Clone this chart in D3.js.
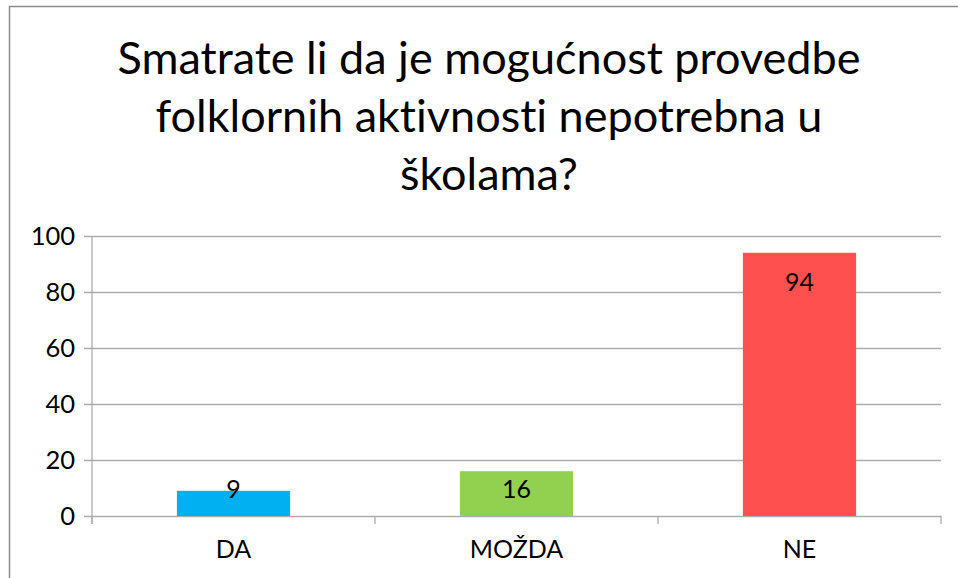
<!DOCTYPE html>
<html lang="hr">
<head>
    <meta charset="UTF-8">
    <title>Folklorne aktivnosti</title>
    <script src="https://d3js.org/d3.v7.min.js"></script>
    <style>
        body {
            margin: 0;
            background-color: #ffffff;
            font-family: Lato, "Open Sans", sans-serif;
        }
        svg text {
            fill: #000000;
            font-variant-ligatures: none;
            font-feature-settings: "liga" 0;
        }
    </style>
</head>
<body>
    <svg id="chart"></svg>

    <script>
        // podaci očitani sa slike
        const titleLines = ["Smatrate li da je mogućnost provedbe", "folklornih aktivnosti nepotrebna u", "školama?"];
        const categories = ["DA", "MOŽDA", "NE"];
        const values = [9, 16, 94];
        const barColors = ["#00b0f0", "#92d050", "#ff5050"];
        const yTicks = [0, 20, 40, 60, 80, 100];

        const W = 958, H = 578;
        const margin = { top: 236, right: 17, bottom: 62, left: 92 };
        const width = W - margin.left - margin.right;
        const height = H - margin.top - margin.bottom;

        const svg = d3.select("#chart")
            .attr("width", W)
            .attr("height", H);

        // okvir grafikona
        svg.append("rect")
            .attr("x", 9.5)
            .attr("y", 6.5)
            .attr("width", W + 20)
            .attr("height", H + 20)
            .attr("fill", "none")
            .attr("stroke", "#8c8c8c")
            .attr("stroke-width", 1.5);

        // naslov
        svg.append("text")
            .attr("text-anchor", "middle")
            .attr("font-size", 45)
            .selectAll("tspan")
            .data(titleLines)
            .enter().append("tspan")
            .attr("x", 489)
            .attr("y", (d, i) => 74 + i * 58)
            .text(d => d);

        const g = svg.append("g")
            .attr("transform", `translate(${margin.left},${margin.top})`);

        const x = d3.scaleBand()
            .domain(categories)
            .range([0, width])
            .paddingInner(0.6)
            .paddingOuter(0.3);

        const y = d3.scaleLinear()
            .domain([0, 100])
            .range([height, 0]);

        // mreža i oznake osi y
        const yAxis = g.append("g")
            .call(d3.axisLeft(y).tickValues(yTicks).tickSize(-width).tickSizeOuter(0).tickPadding(17));
        yAxis.select(".domain").remove();
        yAxis.selectAll(".tick line")
            .attr("x1", -8)
            .attr("stroke", "#acacac")
            .attr("stroke-width", 1.3);
        yAxis.selectAll(".tick text")
            .attr("font-size", 25.5)
            .attr("font-family", "Lato, sans-serif")
            .attr("fill", "#000");

        // okomita os
        g.append("line")
            .attr("x1", 0).attr("x2", 0)
            .attr("y1", 0).attr("y2", height + 8)
            .attr("stroke", "#acacac")
            .attr("stroke-width", 1.3);

        // crtice između kategorija na osi x
        const step = x.step();
        const bounds = d3.range(categories.length + 1).map(i => i * step);
        g.selectAll(".xtick")
            .data(bounds)
            .enter().append("line")
            .attr("class", "xtick")
            .attr("x1", d => d).attr("x2", d => d)
            .attr("y1", height).attr("y2", height + 8)
            .attr("stroke", "#acacac")
            .attr("stroke-width", 1.3);

        // stupci
        const rows = categories.map((c, i) => ({ cat: c, val: values[i], color: barColors[i] }));

        g.selectAll(".bar")
            .data(rows)
            .enter().append("rect")
            .attr("class", "bar")
            .attr("x", d => x(d.cat))
            .attr("y", d => y(d.val))
            .attr("width", x.bandwidth())
            .attr("height", d => height - y(d.val))
            .attr("fill", d => d.color);

        // oznake kategorija
        g.selectAll(".xlabel")
            .data(categories)
            .enter().append("text")
            .attr("class", "xlabel")
            .attr("x", d => x(d) + x.bandwidth() / 2)
            .attr("y", height + 42)
            .attr("text-anchor", "middle")
            .attr("font-size", 25)
            .text(d => d);

        // vrijednosti na stupcima
        g.selectAll(".vlabel")
            .data(rows)
            .enter().append("text")
            .attr("class", "vlabel")
            .attr("x", d => x(d.cat) + x.bandwidth() / 2)
            .attr("y", d => Math.min(y(d.val) + 29, height - 26.5))
            .attr("dy", "0.35em")
            .attr("text-anchor", "middle")
            .attr("font-size", 25)
            .text(d => d.val);
    </script>
</body>
</html>
